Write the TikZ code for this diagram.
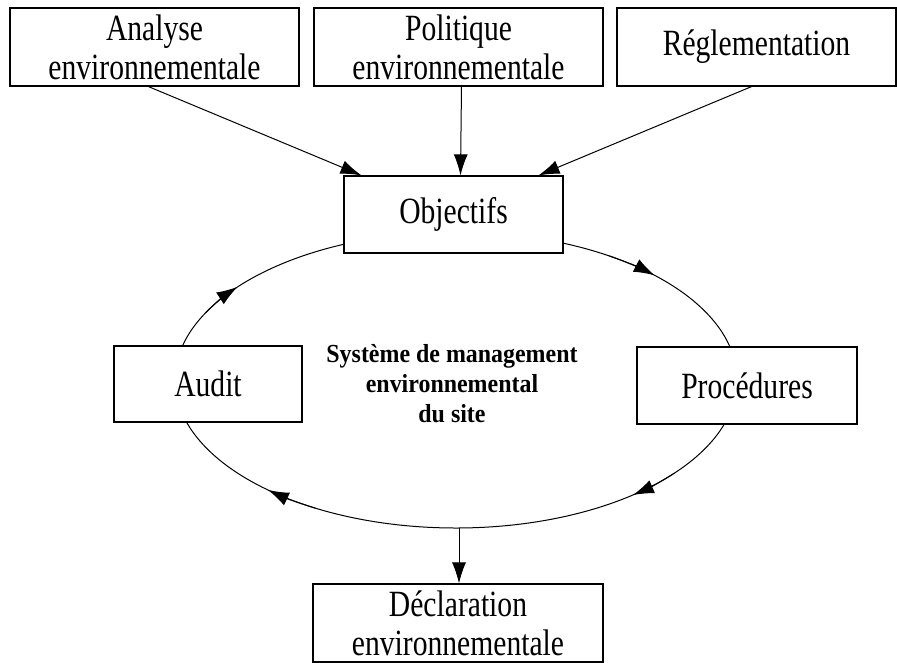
\documentclass[tikz,border=0pt]{standalone}
\usepackage{fontspec}
\setmainfont{Liberation Serif}[FakeStretch=0.8]
\newfontfamily\grasfont{Liberation Serif}[FakeStretch=0.92]
\usetikzlibrary{arrows.meta}
\tikzset{
  boite/.style={draw, line width=1.2pt, fill=white, inner sep=0pt, align=center, font=\fontsize{37}{39}\selectfont},
  fleche/.style={line width=1pt, -{Latex[length=21pt,width=14pt]}},
  boucle/.style={line width=1pt}
}

\begin{document}
\begin{tikzpicture}[x=1pt,y=-1pt]
  \useasboundingbox (0,0) rectangle (897,662);

  % boucle du système
  \coordinate (centre) at (456,380);
  \draw[boucle] (centre) ellipse [x radius=281, y radius=148];
  \foreach \a in {51,132,219,315}{
    \pgfmathsetmacro{\depart}{\a-12}
    \draw[boucle,-{Latex[length=21pt,width=14pt]}] (centre) ++(\depart:281 and 148)
      arc[start angle=\depart, end angle=\a, x radius=281, y radius=148];
  }

  % cadres
  \node[boite, minimum width=289pt, minimum height=78pt] (analyse) at (154.5,47) {Analyse\\environnementale};
  \node[boite, minimum width=289pt, minimum height=78pt] (politique) at (458.5,47) {Politique\\environnementale};
  \node[boite, minimum width=279pt, minimum height=78pt] (reglement) at (756.5,47) {Réglementation};
  \node[boite, minimum width=219pt, minimum height=77pt] (objectifs) at (453.5,214.5) {Objectifs};
  \node[boite, minimum width=188pt, minimum height=76pt] (audit) at (208,384) {Audit};
  \node[boite, minimum width=220pt, minimum height=77pt] (procedures) at (747,385.5) {Procédures};
  \node[boite, minimum width=290pt, minimum height=78pt] (declaration) at (458,623) {Déclaration\\environnementale};
  \node[font=\grasfont\fontsize{26}{30}\selectfont\bfseries, align=center, inner sep=0pt] (sme) at (452,384)
    {Système de management\\environnemental\\du site};

  % flèches
  \draw[fleche] ([xshift=-6pt]analyse.south) -- ([xshift=-92pt]objectifs.north);
  \draw[fleche] ([xshift=3pt]politique.south) -- ([xshift=7pt]objectifs.north);
  \draw[fleche] ([xshift=-5pt]reglement.south) -- ([xshift=85pt]objectifs.north);
  \coordinate (bas) at (459,528);
  \draw[fleche] (bas) -- (bas |- declaration.north);
\end{tikzpicture}
\end{document}
